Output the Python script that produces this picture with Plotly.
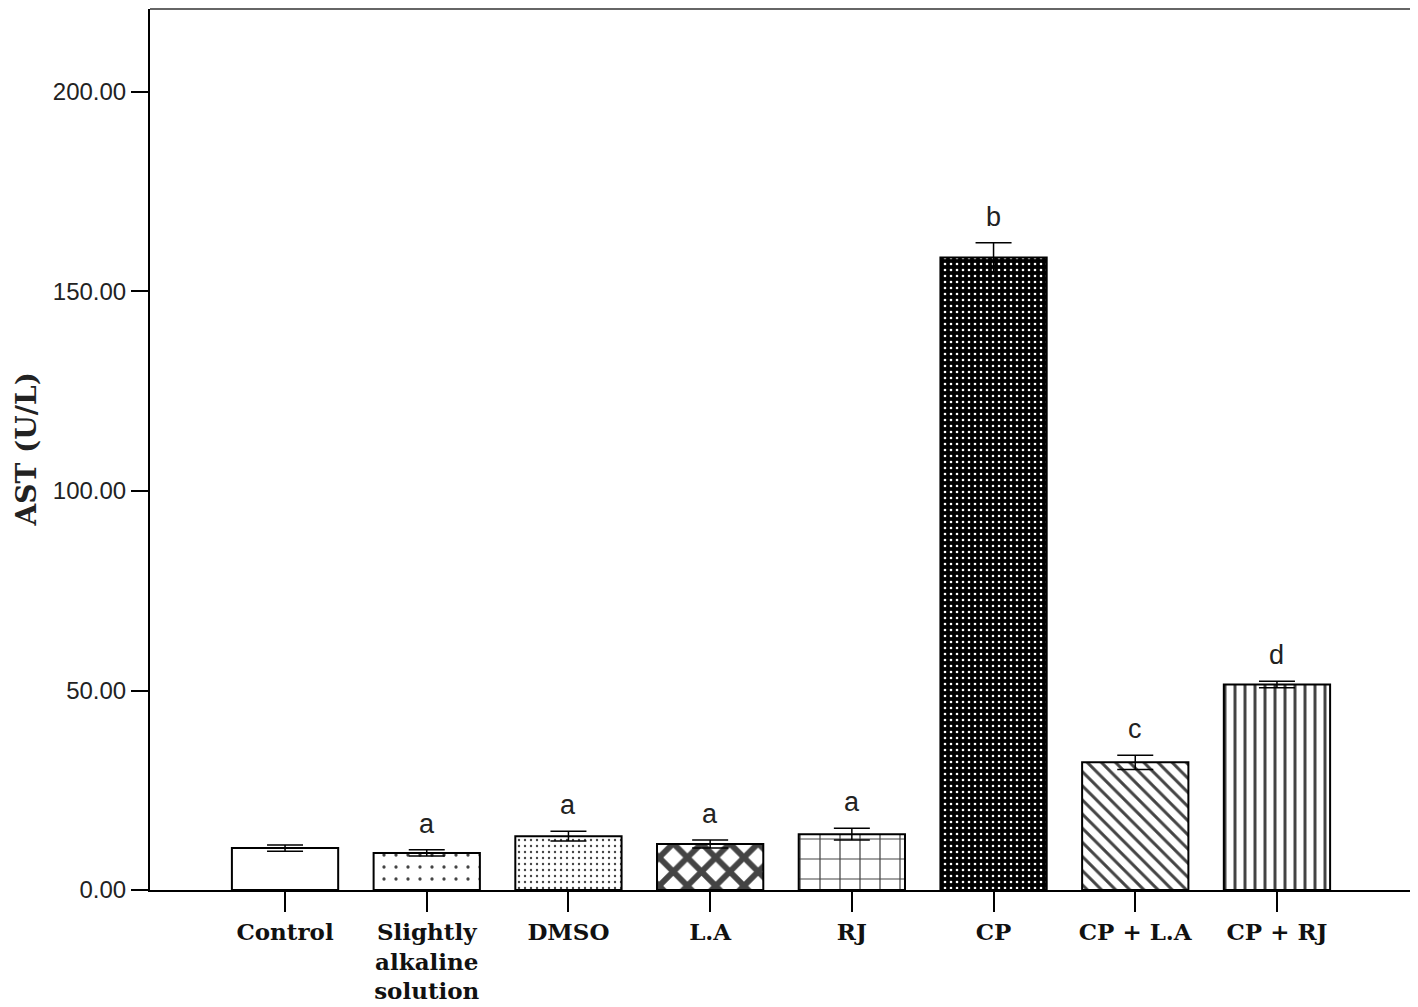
import plotly.graph_objects as go

categories = ["Control", "Slightly<br>alkaline<br>solution", "DMSO", "L.A", "RJ", "CP", "CP + L.A", "CP + RJ"]
ast_mean = [10.5, 9.3, 13.5, 11.5, 14.0, 158.5, 32.0, 51.5]
ast_err = [0.8, 0.8, 1.2, 1.0, 1.5, 3.7, 1.8, 0.8]
sig_letters = ["", "a", "a", "a", "a", "b", "c", "d"]
y_ticks = [0, 50, 100, 150, 200]
y_tick_labels = ["0.00", "50.00", "100.00", "150.00", "200.00"]

x_pos = list(range(len(categories)))

pat_shapes = ["", ".", ".", "x", "+", ".", "\\", "|"]
pat_fg = ["black", "#777777", "#888888", "black", "#999999", "#bbbbbb", "#222222", "#8a8a8a"]
pat_size = [10, 12, 6, 20, 20, 6, 10, 10]
pat_solid = [0.1, 0.06, 0.12, 0.5, 0.12, 0.15, 0.3, 0.3]
bar_colors = ["white", "white", "white", "white", "white", "black", "white", "white"]

fig = go.Figure()
fig.add_trace(go.Bar(
    x=x_pos, y=ast_mean, width=0.75,
    marker=dict(
        color=bar_colors,
        line=dict(color="black", width=2),
        pattern=dict(shape=pat_shapes, fgcolor=pat_fg, size=pat_size,
                     solidity=pat_solid, fillmode="overlay", fgopacity=1),
    ),
    error_y=dict(type="data", array=ast_err, visible=True, color="black",
                 thickness=1.5, width=18),
    showlegend=False,
))

for xi, m, e, lab in zip(x_pos, ast_mean, ast_err, sig_letters):
    if lab:
        fig.add_annotation(x=xi, y=m + e, text=lab, showarrow=False,
                           yanchor="bottom", yshift=9,
                           font=dict(family="Liberation Sans, Arial", size=27, color="#222222"))

fig.add_annotation(xref="paper", yref="paper", x=-0.0975, y=0.5, text="<b>AST (U/L)</b>",
                   textangle=-90, showarrow=False, xanchor="center", yanchor="middle",
                   font=dict(family="DejaVu Serif", size=28, color="#222222"))

# top and right frame lines (gray)
fig.add_shape(type="line", xref="paper", yref="paper", x0=0, x1=1, y0=1, y1=1,
              line=dict(color="#666666", width=2))
fig.add_shape(type="line", xref="paper", yref="paper", x0=1, x1=1, y0=0, y1=1,
              line=dict(color="#666666", width=2))

fig.update_layout(
    width=1410, height=999,
    margin=dict(l=142, r=6, t=1, b=117),
    paper_bgcolor="white", plot_bgcolor="white",
    xaxis=dict(
        range=[-0.953, 7.953], tickmode="array", tickvals=x_pos,
        ticktext=["<b>" + c + "</b>" for c in categories],
        ticks="outside", ticklen=20, tickwidth=2, tickcolor="black",
        showline=True, linecolor="black", linewidth=2, showgrid=False, zeroline=False,
        tickfont=dict(family="DejaVu Serif", size=23, color="#111111"),
    ),
    yaxis=dict(
        range=[0, 220.8], tickmode="array", tickvals=y_ticks, ticktext=y_tick_labels,
        ticks="outside", ticklen=17, tickwidth=2, tickcolor="black",
        showline=True, linecolor="black", linewidth=2, showgrid=False, zeroline=False,
        tickfont=dict(family="Liberation Sans, Arial", size=24, color="#222222"),
    ),
)

fig.write_html("out.html")
